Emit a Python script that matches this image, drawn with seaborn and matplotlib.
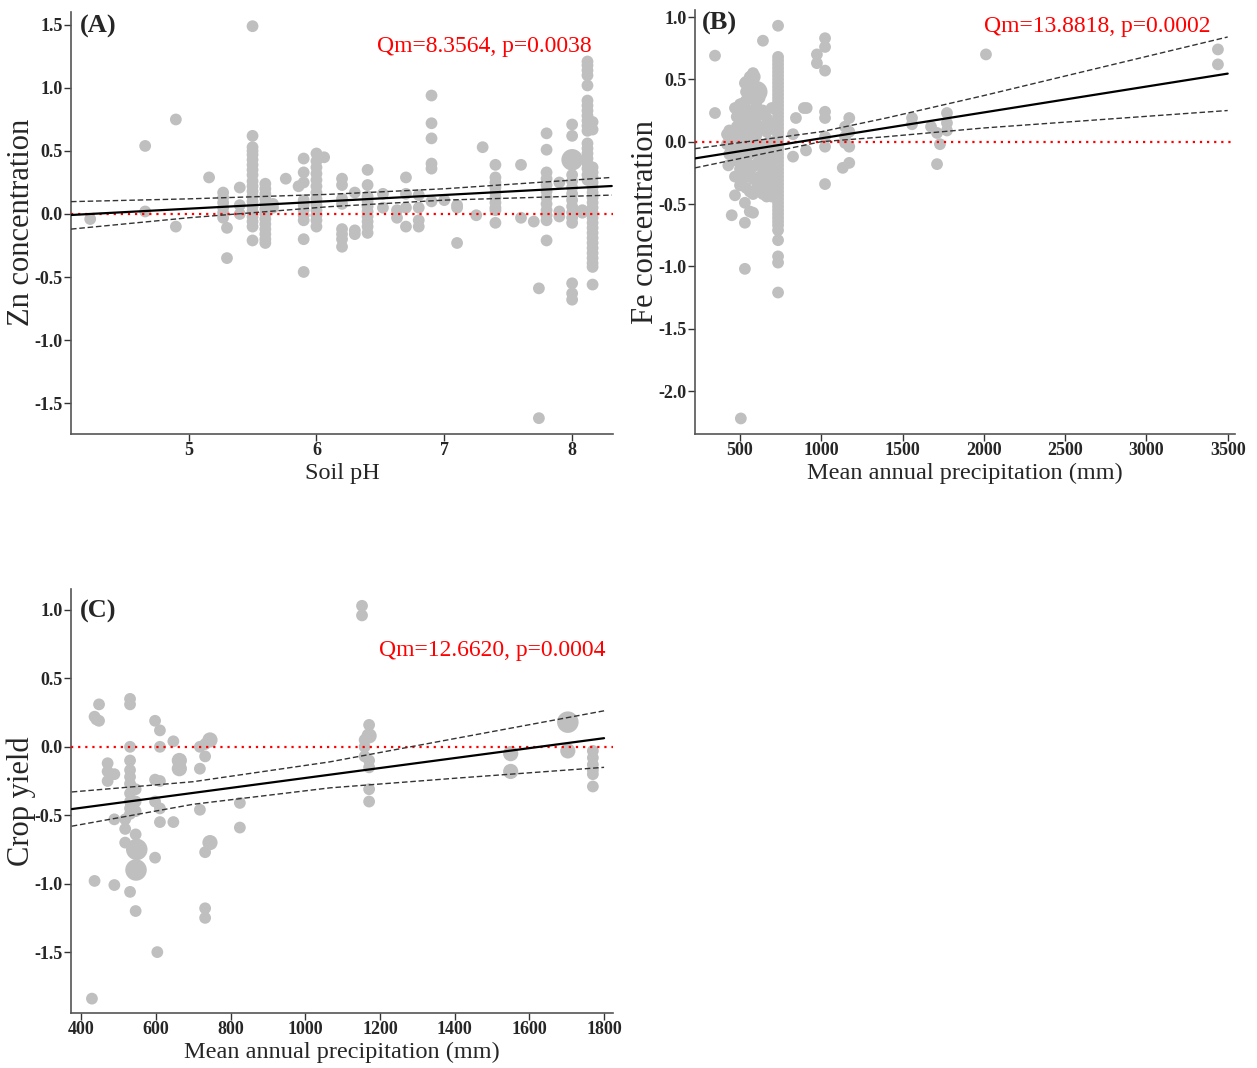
import matplotlib
matplotlib.use('Agg')
import matplotlib.pyplot as plt
import pandas as pd
import seaborn as sns

# (A) Zn concentration vs soil pH: one x per column, list of effect sizes per column
zn_ph = [4.23, 4.66, 4.90, 5.16, 5.27, 5.30, 5.40, 5.50, 5.60, 5.66, 5.76, 5.86,
         5.90, 6.00, 6.06, 6.20, 6.30, 6.40, 6.52, 6.63, 6.70, 6.80, 6.90, 7.00,
         7.10, 7.25, 7.30, 7.40, 7.60, 7.70, 7.74, 7.80, 7.90, 8.00, 8.08, 8.12, 8.16]
zn_eff = [
    [-0.04],
    [0.54, 0.02],
    [0.75, -0.10],
    [0.29],
    [0.17, 0.13, 0.09, 0.05, 0.01, -0.03],
    [-0.11, -0.35],
    [0.21, 0.07, 0.00],
    [1.49, 0.62, 0.53, 0.50, 0.47, 0.43, 0.39, 0.35, 0.31, 0.26, 0.22, 0.18, 0.14,
     0.10, 0.06, 0.02, -0.02, -0.06, -0.10, -0.21],
    [0.24, 0.20, 0.16, 0.12, 0.08, 0.04, 0.00, -0.04, -0.08, -0.12, -0.16, -0.20, -0.23],
    [0.08, 0.05],
    [0.28],
    [0.22],
    [0.44, 0.33, 0.25, 0.11, 0.07, 0.03, -0.01, -0.05, -0.20, -0.46],
    [0.48, 0.42, 0.37, 0.32, 0.27, 0.22, 0.17, 0.12, 0.07, 0.03, -0.01, -0.05, -0.10],
    [0.45],
    [0.28, 0.23, 0.12, 0.08, -0.12, -0.16, -0.20, -0.26],
    [0.17, -0.13, -0.16],
    [0.35, 0.23, 0.14, 0.10, 0.06, 0.02, -0.02, -0.06, -0.10, -0.15],
    [0.16, 0.05],
    [0.03, -0.03],
    [0.29, 0.16, 0.05, -0.10],
    [0.15, 0.05, -0.05, -0.10],
    [0.94, 0.72, 0.60, 0.40, 0.36, 0.10],
    [0.11],
    [0.07, 0.05, -0.23],
    [-0.01],
    [0.53],
    [0.39, 0.29, 0.25, 0.21, 0.17, 0.13, 0.09, 0.05, 0.03, -0.07],
    [0.39, -0.03],
    [-0.06],
    [-0.59, -1.62],
    [0.64, 0.51, 0.33, 0.28, 0.23, 0.18, 0.13, 0.08, 0.03, -0.01, -0.05, -0.21],
    [0.25, 0.02, -0.02],
    [0.71, 0.62, 0.31, 0.26, 0.21, 0.16, 0.11, 0.06, 0.01, -0.03, -0.07, -0.55, -0.63, -0.68],
    [0.03, 0.01],
    [1.21, 1.18, 1.14, 1.10, 1.02, 0.90, 0.86, 0.82, 0.78, 0.74, 0.70, 0.66, 0.56,
     0.52, 0.48, 0.44, 0.40, 0.36, 0.31, 0.27],
    [0.73, 0.67, 0.37, 0.33, 0.29, 0.25, 0.21, 0.17, 0.13, 0.09, 0.05, 0.01, -0.03,
     -0.07, -0.11, -0.15, -0.19, -0.23, -0.27, -0.31, -0.35, -0.39, -0.42, -0.56],
]
zn_big_ph = [8.00]
zn_big_eff = [0.43]
zn_big_w = [3]
zn_fit_x = [4.08, 8.31]
zn_fit_y = [-0.008, 0.222]
zn_ci_x = [4.08, 5.0, 6.1, 7.0, 8.31]
zn_ci_up = [0.098, 0.12, 0.156, 0.20, 0.29]
zn_ci_lo = [-0.12, -0.03, 0.058, 0.11, 0.15]

# (B) Fe concentration vs mean annual precipitation
fe_map = [346, 420, 428, 434, 449, 469, 480, 500, 505, 520, 530, 537, 560, 580, 600,
          620, 641, 664, 680, 695, 710, 734, 826, 844, 893, 910, 906, 973, 1023,
          1132, 1146, 1172, 1558, 1675, 1712, 1730, 1773, 2013, 3440]
fe_eff = [
    [0.69, 0.23],
    [0.06, -0.02],
    [-0.19],
    [0.09, 0.02, -0.10],
    [-0.59],
    [0.27, 0.05, -0.15, -0.28, -0.43],
    [0.20, 0.12, -0.06],
    [0.30, 0.15, 0.08, 0.00, -0.08, -0.22, -0.35],
    [-2.22],
    [0.31, 0.22, 0.10, -0.03, -0.12, -0.20],
    [0.47, -0.28, -0.49, -0.65, -1.02],
    [0.48, 0.40, 0.33, 0.18, 0.05, -0.15, -0.28, -0.37],
    [0.52, 0.42, 0.25, 0.12, 0.02, -0.10, -0.25, -0.40, -0.56],
    [0.55, 0.50, 0.35, 0.20, 0.10, -0.05, -0.20, -0.30, -0.42, -0.57],
    [0.30, 0.15, 0.05, -0.08, -0.18, -0.30, -0.38],
    [0.35, 0.22, 0.12, -0.02, -0.15, -0.28, -0.40],
    [0.81, 0.25, 0.10, -0.10, -0.22, -0.35, -0.42],
    [0.19, 0.08, -0.05, -0.20, -0.32, -0.44],
    [0.15, 0.00, -0.12, -0.25, -0.38],
    [0.27, 0.12, -0.05, -0.20, -0.35, -0.44],
    [0.10, -0.10, -0.30, -0.44],
    [0.93, 0.68, 0.65, 0.62, 0.59, 0.56, 0.53, 0.50, 0.47, 0.44, 0.41, 0.38, 0.35,
     0.32, 0.29, 0.26, 0.23, 0.20, 0.17, 0.14, 0.11, 0.08, 0.05, 0.02, -0.01, -0.04,
     -0.07, -0.10, -0.13, -0.16, -0.19, -0.22, -0.25, -0.28, -0.31, -0.34, -0.37,
     -0.40, -0.43, -0.46, -0.49, -0.52, -0.55, -0.58, -0.61, -0.64, -0.67, -0.71,
     -0.79, -0.92, -0.97, -1.21],
    [0.06, -0.12],
    [0.19],
    [0.27],
    [0.27],
    [-0.07],
    [0.70, 0.63],
    [0.83, 0.76, 0.57, 0.24, 0.19, 0.04, -0.04, -0.34],
    [-0.21],
    [0.12, 0.04, -0.01],
    [0.19, 0.08, -0.04, -0.17],
    [0.19, 0.14],
    [0.12],
    [0.07, -0.18],
    [-0.02],
    [0.23, 0.15, 0.09],
    [0.70],
    [0.74, 0.62],
]
fe_big_map = [603, 580]
fe_big_eff = [0.40, 0.52]
fe_big_w = [3, 2]
fe_fit_x = [223, 3500]
fe_fit_y = [-0.134, 0.546]
fe_ci_x = [223, 1000, 1400, 2000, 3500]
fe_ci_up = [-0.056, 0.08, 0.19, 0.37, 0.84]
fe_ci_lo = [-0.21, 0.0, 0.04, 0.11, 0.25]

# (C) Crop yield vs mean annual precipitation
cy_map = [429, 436, 441, 448, 471, 489, 518, 531, 546, 598, 604, 611, 647, 718,
          732, 825, 1152, 1159, 1171, 1770]
cy_eff = [
    [-1.84],
    [0.22, -0.98],
    [0.20],
    [0.31, 0.19],
    [-0.12, -0.18, -0.25],
    [-0.20, -0.53, -1.01],
    [-0.53, -0.60, -0.70],
    [0.35, 0.31, 0.00, -0.10, -0.17, -0.22, -0.27, -0.34, -0.40, -0.45, -0.49, -1.06],
    [-0.31, -0.40, -0.47, -0.64, -1.20],
    [0.19, -0.24, -0.40, -0.81],
    [-1.50],
    [0.12, 0.00, -0.25, -0.45, -0.55],
    [0.04, -0.55],
    [0.00, -0.16, -0.46],
    [0.02, -0.07, -0.77, -1.18, -1.25],
    [-0.41, -0.59],
    [1.03, 0.96],
    [0.05, 0.00, -0.07],
    [0.16, -0.10, -0.15, -0.31, -0.40],
    [-0.03, -0.08, -0.13, -0.17, -0.20, -0.29],
]
cy_big_map = [549, 547, 663, 663, 745, 745, 1171, 1550, 1550, 1703, 1703]
cy_big_eff = [-0.75, -0.90, -0.10, -0.16, 0.05, -0.70, 0.08, -0.05, -0.18, 0.18, -0.03]
cy_big_w = [3, 3, 2, 2, 2, 2, 2, 2, 2, 3, 2]
cy_fit_x = [375, 1800]
cy_fit_y = [-0.455, 0.063]
cy_ci_x = [375, 700, 1066, 1400, 1800]
cy_ci_up = [-0.33, -0.255, -0.11, 0.06, 0.263]
cy_ci_lo = [-0.58, -0.42, -0.30, -0.23, -0.15]


def expand(xs, ys):
    rows = [(x, y) for x, col in zip(xs, ys) for y in col]
    return pd.DataFrame(rows, columns=['x', 'y']).assign(w=1)


sns.set_theme(style='white')
plt.rcParams['font.family'] = ['Liberation Serif', 'DejaVu Serif']
plt.rcParams['axes.unicode_minus'] = False

fig = plt.figure(figsize=(12.57, 10.68), dpi=100)
ax_a = fig.add_axes([0.0565, 0.5936, 0.4312, 0.3952])
ax_b = fig.add_axes([0.5529, 0.5936, 0.4296, 0.3970])
ax_c = fig.add_axes([0.0565, 0.0515, 0.4312, 0.3970])

size_map = {1: 72, 2: 120, 3: 240}
grey = '#bfbfbf'


def panel(ax, xs, ys, bx, by, bw, fx, fy, cx, cu, cl):
    pts = pd.concat([expand(xs, ys),
                     pd.DataFrame({'x': bx, 'y': by, 'w': bw})], ignore_index=True)
    sns.scatterplot(data=pts, x='x', y='y', size='w', sizes=size_map,
                    color=grey, edgecolor='none', linewidth=0, alpha=1,
                    legend=False, ax=ax, zorder=2)
    ax.axhline(0, color='red', lw=1.6, ls=(0, (1, 2.2)), zorder=3)
    sns.lineplot(x=cx, y=cu, color='#333333', lw=1.0, ls=(0, (4, 2)), ax=ax, zorder=4)
    sns.lineplot(x=cx, y=cl, color='#333333', lw=1.0, ls=(0, (4, 2)), ax=ax, zorder=4)
    sns.lineplot(x=fx, y=fy, color='black', lw=1.6, ax=ax, zorder=5)
    for s in ['top', 'right']:
        ax.spines[s].set_visible(False)
    for s in ['left', 'bottom']:
        ax.spines[s].set_color('#555555')
        ax.spines[s].set_linewidth(1.2)
    ax.tick_params(direction='out', length=5, width=1, color='#333333',
                   labelsize=13, pad=1, left=True, bottom=True)


panel(ax_a, zn_ph, zn_eff, zn_big_ph, zn_big_eff, zn_big_w,
      zn_fit_x, zn_fit_y, zn_ci_x, zn_ci_up, zn_ci_lo)
panel(ax_b, fe_map, fe_eff, fe_big_map, fe_big_eff, fe_big_w,
      fe_fit_x, fe_fit_y, fe_ci_x, fe_ci_up, fe_ci_lo)
panel(ax_c, cy_map, cy_eff, cy_big_map, cy_big_eff, cy_big_w,
      cy_fit_x, cy_fit_y, cy_ci_x, cy_ci_up, cy_ci_lo)

ax_a.set_xlim(4.08, 8.32)
ax_a.set_ylim(-1.746, 1.603)
ax_a.set_xticks([5, 6, 7, 8])
ax_a.set_yticks([-1.5, -1.0, -0.5, 0.0, 0.5, 1.0, 1.5])

ax_b.set_xlim(223, 3545)
ax_b.set_ylim(-2.345, 1.056)
ax_b.set_xticks([500, 1000, 1500, 2000, 2500, 3000, 3500])
ax_b.set_yticks([-2.0, -1.5, -1.0, -0.5, 0.0, 0.5, 1.0])

ax_c.set_xlim(373, 1824)
ax_c.set_ylim(-1.945, 1.153)
ax_c.set_xticks([400, 600, 800, 1000, 1200, 1400, 1600, 1800])
ax_c.set_yticks([-1.5, -1.0, -0.5, 0.0, 0.5, 1.0])

labels = [
    (ax_a, 'Soil pH', 'Zn concentration', '(A)', 'Qm=8.3564, p=0.0038', (0.961, 0.917), (0.017, 0.966)),
    (ax_b, 'Mean annual precipitation (mm)', 'Fe concentration', '(B)', 'Qm=13.8818, p=0.0002', (0.955, 0.96), (0.013, 0.968)),
    (ax_c, 'Mean annual precipitation (mm)', 'Crop yield', '(C)', 'Qm=12.6620, p=0.0004', (0.987, 0.856), (0.017, 0.946)),
]
for ax, xl, yl, tag, qm, qpos, tpos in labels:
    ax.set_yticklabels([f'{v:.1f}' for v in ax.get_yticks()])
    ax.set_xticklabels([f'{v:g}' for v in ax.get_xticks()])
    plt.setp(ax.get_xticklabels() + ax.get_yticklabels(), fontweight='bold')
    ax.set_xlabel(xl, fontsize=17.5)
    ax.set_ylabel(yl, fontsize=22)
    ax.xaxis.set_label_coords(0.5, -0.068)
    ax.text(qpos[0], qpos[1], qm, transform=ax.transAxes, color='red',
            fontsize=17, ha='right', va='center')
    ax.text(tpos[0], tpos[1], tag, transform=ax.transAxes, fontsize=19,
            fontweight='bold', ha='left', va='center')

ax_a.yaxis.set_label_coords(-0.064, 0.502)
ax_b.yaxis.set_label_coords(-0.064, 0.5)
ax_c.yaxis.set_label_coords(-0.064, 0.5)

fig.savefig('out.png', dpi=100, facecolor='white')
